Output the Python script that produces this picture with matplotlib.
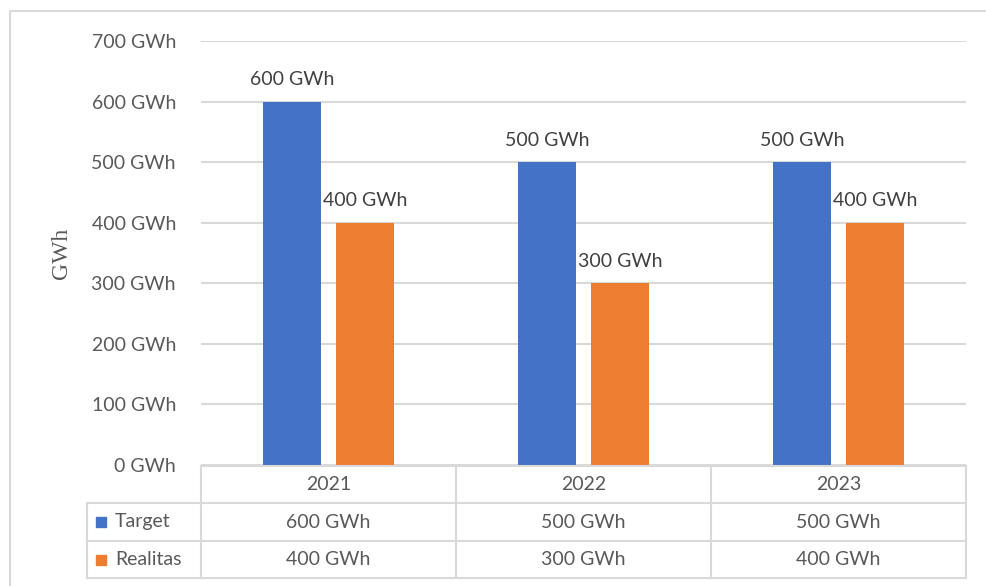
import matplotlib
matplotlib.use("Agg")
import matplotlib.pyplot as plt
import numpy as np
from matplotlib.lines import Line2D
from matplotlib.patches import Rectangle

years = ["2021", "2022", "2023"]
series_names = ["Target", "Realitas"]
target = [600, 500, 500]
realitas = [400, 300, 400]
yticks = [0, 100, 200, 300, 400, 500, 600, 700]
colors = ["#4472C4", "#ED7D31"]

W, H = 987, 586
fig = plt.figure(figsize=(W / 100, H / 100), dpi=100)
plt.rcParams['font.family'] = ['Lato', 'DejaVu Sans']
txtc = "#595959"
gridc = "#D9D9D9"
fs = 14

def fx(px):
    return px / W

def fy(py):
    return 1 - py / H

# outer chart border
fig.add_artist(Rectangle((fx(10), fy(590)), fx(990) - fx(10), fy(11) - fy(590),
                         transform=fig.transFigure, fill=False, edgecolor="#D9D9D9", lw=1.5))

L, R, T, B = 201, 966, 41, 465
ax = fig.add_axes([fx(L), fy(B), fx(R) - fx(L), fy(T) - fy(B)])
ax.set_xlim(0, 3)
ax.set_ylim(0, 700)
for s in ax.spines.values():
    s.set_visible(False)
ax.set_yticks(yticks)
ax.set_yticklabels([f"{v} GWh" for v in yticks], color=txtc, fontsize=fs)
ax.tick_params(axis="y", length=0, pad=18)
ax.set_xticks([])
ax.yaxis.grid(True, color=gridc, lw=1.5)
ax.set_axisbelow(True)

x = np.arange(3) + 0.5
bw = 0.225
gap = 0.06
for vals, c, off in [(target, colors[0], -(bw + gap) / 2), (realitas, colors[1], (bw + gap) / 2)]:
    bars = ax.bar(x + off, vals, width=bw, color=c, zorder=3)
    for b, v in zip(bars, vals):
        ax.text(b.get_x() + b.get_width() / 2, v + 22, f"{v} GWh", ha="center", va="bottom",
                fontsize=fs, color="#404040")

ax.set_ylabel("GWh", family=["Liberation Serif"], fontsize=17, color=txtc, labelpad=14)

# data table
rows_y = [466, 503, 541, 578]
cols_x = [201, 456, 711, 966]
leg_x = 87
lc = "#D9D9D9"
lw = 1.5
fig.add_artist(Line2D([fx(cols_x[0]), fx(cols_x[-1])], [fy(rows_y[0])] * 2, color=lc, lw=lw))
for ry in rows_y[1:]:
    fig.add_artist(Line2D([fx(leg_x), fx(cols_x[-1])], [fy(ry)] * 2, color=lc, lw=lw))
fig.add_artist(Line2D([fx(leg_x)] * 2, [fy(rows_y[1]), fy(rows_y[-1])], color=lc, lw=lw))
for cx in cols_x:
    fig.add_artist(Line2D([fx(cx)] * 2, [fy(rows_y[0]), fy(rows_y[-1])], color=lc, lw=lw))

for i, yr in enumerate(years):
    cxm = (cols_x[i] + cols_x[i + 1]) / 2
    fig.text(fx(cxm), fy((rows_y[0] + rows_y[1]) / 2), yr, ha="center", va="center",
             fontsize=fs, color=txtc)
    for j, vals in enumerate([target, realitas]):
        fig.text(fx(cxm), fy((rows_y[j + 1] + rows_y[j + 2]) / 2), f"{vals[i]} GWh",
                 ha="center", va="center", fontsize=fs, color=txtc)

for j, name in enumerate(series_names):
    ym = (rows_y[j + 1] + rows_y[j + 2]) / 2
    fig.add_artist(Rectangle((fx(96), fy(ym + 5)), fx(106) - fx(96), fy(ym - 5) - fy(ym + 5),
                             transform=fig.transFigure, color=colors[j]))
    fig.text(fx(115), fy(ym), name, ha="left", va="center", fontsize=fs, color=txtc)

fig.savefig("out.png", dpi=100)
